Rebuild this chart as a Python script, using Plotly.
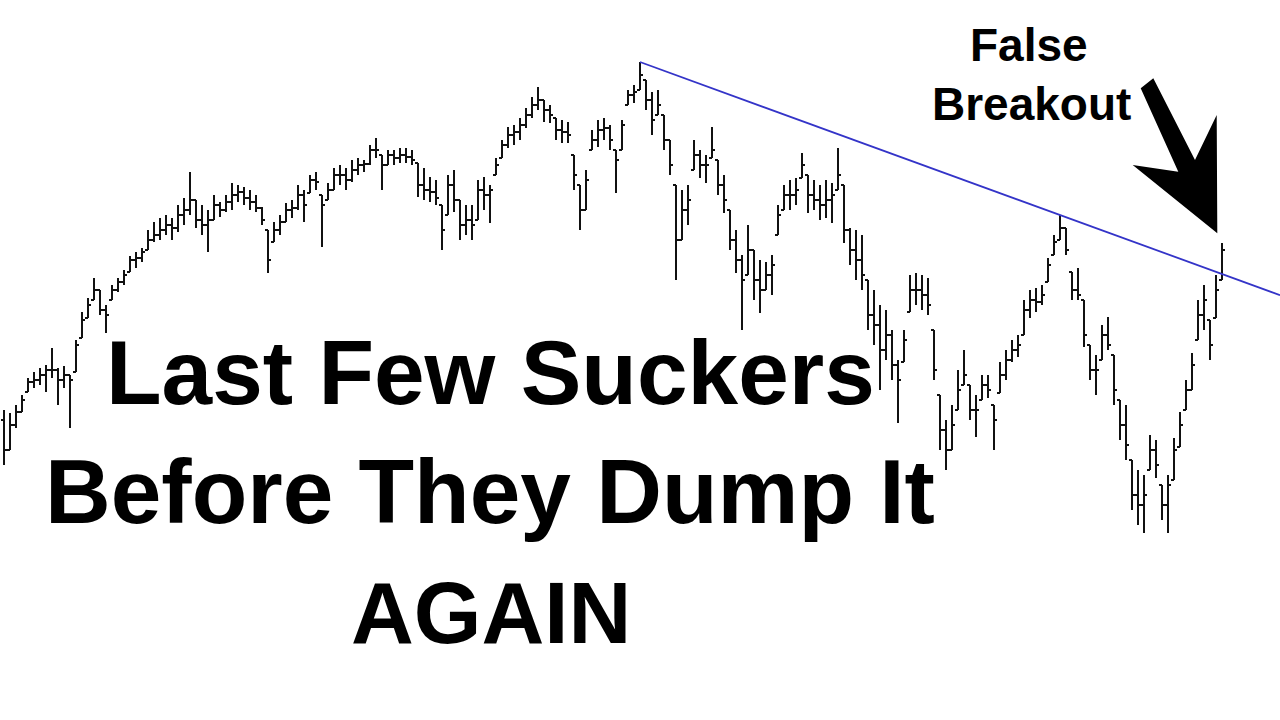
import plotly.graph_objects as go

# ---- price data (one bar per trading period) ----
high = [310,307,315,325,342,348,352,355,372,352,
        354,345,380,408,422,442,430,415,435,442,
        450,464,468,472,490,498,502,505,502,515,
        522,548,520,515,510,525,518,525,537,535,
        533,530,525,513,490,498,505,517,520,535,
        530,545,548,525,537,552,555,552,560,562,
        560,575,582,565,570,570,572,572,570,557,
        552,543,540,515,545,550,520,515,515,540,
        543,535,562,580,593,595,602,612,623,633,
        620,615,602,600,598,565,535,550,590,600,
        602,595,570,600,630,635,658,640,628,630,
        605,580,535,530,535,580,570,565,593,560,
        545,510,490,465,495,470,460,458,465,515,
        535,540,542,567,545,540,535,540,537,572,
        535,492,490,485,440,430,415,410,390,360,
        390,445,447,445,442,390,325,300,315,350,
        370,335,325,345,345,315,358,370,380,385,
        420,430,432,435,462,485,505,492,448,452,
        420,375,365,395,403,365,320,315,260,250,
        245,285,280,235,245,282,308,340,367,420,
        435,400,445,477]

low = [255,270,292,308,328,332,335,328,342,315,
       332,292,348,382,402,420,405,387,420,428,
       435,448,452,458,470,478,480,485,480,488,
       495,505,492,485,468,500,503,508,510,518,
       515,510,508,495,447,478,485,498,502,510,
       498,527,530,473,520,530,535,530,538,545,
       548,555,562,530,555,555,557,557,555,523,
       520,518,515,470,505,508,480,485,480,500,
       510,497,545,562,572,575,580,592,602,610,
       598,597,580,577,577,530,490,510,570,573,
       580,570,527,570,615,617,630,610,585,605,
       570,545,440,480,495,550,542,537,562,525,
       507,470,447,390,445,420,407,430,425,485,
       510,510,515,542,507,510,500,502,497,530,
       477,455,440,430,390,375,330,360,340,297,
       358,408,415,410,405,340,270,250,270,310,
       335,300,283,320,322,270,327,340,358,363,
       385,402,408,415,438,465,480,465,420,420,
       373,340,325,360,370,315,280,260,210,195,
       187,250,242,200,187,240,273,310,330,380,
       390,360,402,440]

close = [270,295,308,320,338,340,345,350,350,340,
         345,340,375,400,415,430,410,405,430,438,
         445,460,462,468,480,485,490,495,492,505,
         510,520,500,495,500,515,510,518,525,528,
         522,518,512,500,460,490,498,510,512,525,
         515,540,538,515,530,545,545,540,550,555,
         556,570,570,555,565,562,565,563,560,535,
         530,528,522,490,535,520,495,500,495,530,
         525,530,555,575,585,588,595,605,615,620,
         610,605,590,588,585,545,510,540,580,590,
         592,580,560,595,625,628,645,620,600,615,
         580,555,480,510,520,565,555,555,570,535,
         520,480,460,440,470,440,430,445,455,505,
         525,525,530,555,525,520,515,520,525,545,
         490,470,460,445,405,395,370,385,355,340,
         380,430,430,425,415,350,290,270,295,330,
         345,310,310,335,330,300,345,360,370,375,
         410,420,418,425,455,478,492,470,430,425,
         385,350,350,385,375,330,295,275,225,215,
         225,270,255,215,235,270,295,330,355,405,
         420,375,430,470]

first_open = 300
# open of each bar = previous close, kept inside the bar's range
prev = [first_open] + close[:-1]
open_ = [min(max(p, l), h) for p, l, h in zip(prev, low, high)]
bars = list(range(len(close)))

# trend line through the two swing highs
pivot_a = high.index(max(high))     # major top
pivot_b = 176                       # lower-high touch
slope = (high[pivot_b] - high[pivot_a]) / (pivot_b - pivot_a)
x_end = 212.67
trend_x = [pivot_a, x_end]
trend_y = [high[pivot_a], high[pivot_a] + slope * (x_end - pivot_a)]

fig = go.Figure()
fig.add_trace(go.Ohlc(
    x=bars, open=open_, high=high, low=low, close=close,
    increasing=dict(line=dict(color="#111111", width=2)),
    decreasing=dict(line=dict(color="#111111", width=2)),
    tickwidth=0.5, showlegend=False, hoverinfo="skip"))
fig.add_trace(go.Scatter(
    x=trend_x, y=trend_y, mode="lines",
    line=dict(color="#3434c8", width=1.8), showlegend=False, hoverinfo="skip"))

W, H = 1280, 720
def P(px, py):
    return px / W, 1 - py / H

arrow_pts = [(1140.7, 88.3), (1153.3, 78.3), (1195, 160), (1216.7, 115),
             (1217.3, 233.3), (1132.7, 165), (1178.3, 171.7)]
path = "M " + " L ".join("%.5f,%.5f" % P(x, y) for x, y in arrow_pts) + " Z"
fig.add_shape(type="path", path=path, xref="paper", yref="paper",
              fillcolor="black", line=dict(color="black", width=0))

font_big = dict(family="Liberation Sans, Arial, sans-serif", color="black", weight="bold")
def label(text, cx, cy, size):
    x, y = P(cx, cy)
    fig.add_annotation(text=text, x=x, y=y, xref="paper", yref="paper",
                       xanchor="center", yanchor="middle", showarrow=False,
                       font=dict(size=size, **font_big))

label("Last Few Suckers", 490, 372, 91)
label("Before They Dump It", 490, 491, 91)
label("AGAIN", 491, 612, 87)
label("False", 1029, 45, 46)
label("Breakout", 1031, 104, 46)

fig.update_layout(
    width=W, height=H, margin=dict(l=0, r=0, t=0, b=0),
    paper_bgcolor="white", plot_bgcolor="white",
    xaxis=dict(visible=False, range=[-0.667, 212.667], rangeslider=dict(visible=False)),
    yaxis=dict(visible=False, range=[0, 720]),
    hovermode=False,
)
fig.write_html("out.html", config={"displayModeBar": False},
               post_script="document.body.style.margin='0';document.body.style.overflow='hidden';")
